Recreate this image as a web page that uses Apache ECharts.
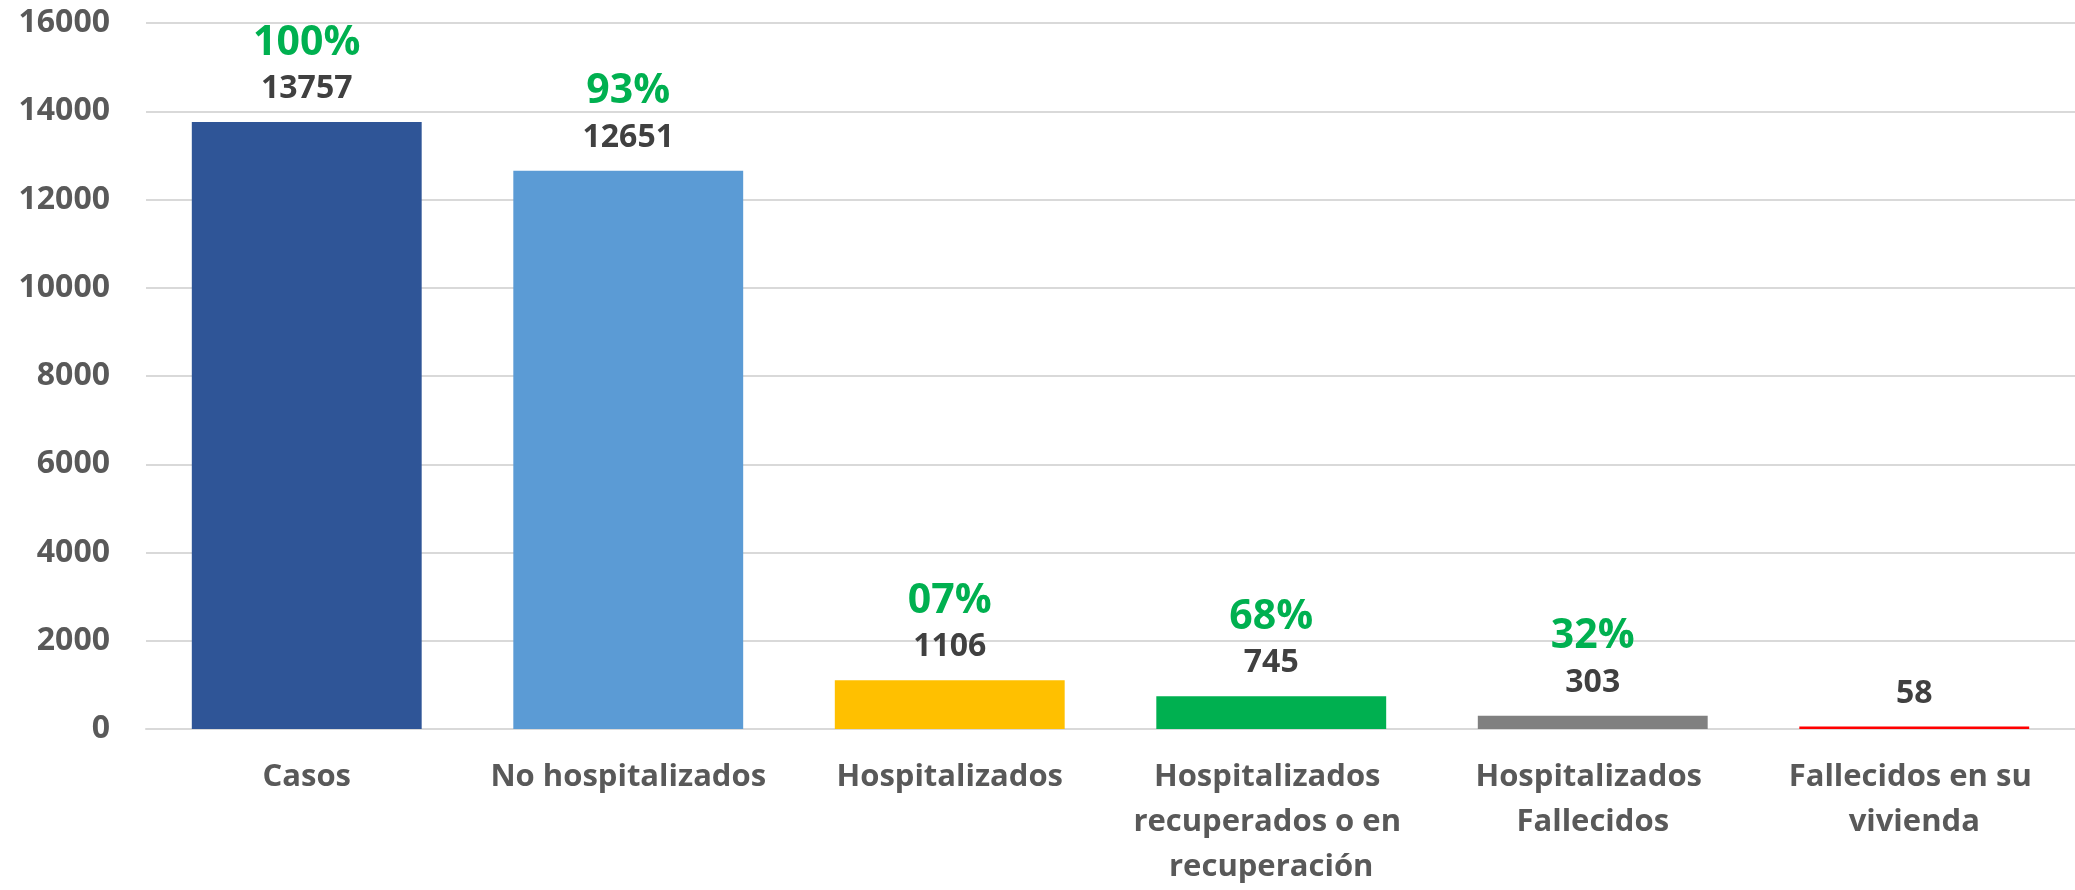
<!DOCTYPE html>
<html>
<head>
<meta charset="utf-8">
<script src="https://cdn.jsdelivr.net/npm/echarts@6/dist/echarts.min.js"></script>
<style>html,body{margin:0;padding:0;background:#fff;}#c{width:2075px;height:890px;}</style>
</head>
<body>
<div id="c"></div>
<script>
const categories = ["Casos", "No hospitalizados", "Hospitalizados", "Hospitalizados recuperados o en recuperación", "Hospitalizados Fallecidos", "Fallecidos en su vivienda"];
const values = [13757, 12651, 1106, 745, 303, 58];
const percents = ["100%", "93%", "07%", "68%", "32%", ""];
const barColors = ["#2F5597", "#5B9BD5", "#FFC000", "#00B050", "#808080", "#FF0000"];
const yTicks = [0, 2000, 4000, 6000, 8000, 10000, 12000, 14000, 16000];

const FONT = "Open Sans";
const chart = echarts.init(document.getElementById('c'), null, {renderer: 'canvas'});
chart.setOption({
  animation: false,
  backgroundColor: '#fff',
  grid: {left: 146, right: -5, top: 23, bottom: 158, containLabel: false},
  xAxis: {
    type: 'category',
    data: categories,
    axisLine: {show: true, lineStyle: {color: '#D9D9D9', width: 2}},
    axisTick: {show: false},
    axisLabel: {
      interval: 0, color: '#595959', fontFamily: FONT, fontWeight: 'bold', fontSize: 31,
      lineHeight: 45, margin: 26, width: 300, overflow: 'break'
    }
  },
  yAxis: {
    type: 'value',
    min: yTicks[0], max: yTicks[yTicks.length - 1], interval: 2000,
    axisLine: {show: false}, axisTick: {show: false},
    splitLine: {lineStyle: {color: '#D9D9D9', width: 2}},
    axisLabel: {color: '#595959', fontFamily: FONT, fontWeight: 'bold', fontSize: 32, margin: 36,
      formatter: v => String(v)}
  },
  series: [{
    type: 'bar',
    barWidth: '71.5%',
    data: values.map((v, i) => ({value: v, itemStyle: {color: barColors[i]}})),
    label: {
      show: true, position: 'top', distance: 13, align: 'center',
      formatter: p => (percents[p.dataIndex] ? '{p|' + percents[p.dataIndex] + '}\n' : '') + '{v|' + p.value + '}',
      rich: {
        p: {color: '#00B050', fontFamily: FONT, fontWeight: 'bold', fontSize: 41, lineHeight: 52, align: 'center'},
        v: {color: '#404040', fontFamily: FONT, fontWeight: 'bold', fontSize: 32, lineHeight: 40, align: 'center'}
      }
    }
  }]
});
</script>
</body>
</html>
